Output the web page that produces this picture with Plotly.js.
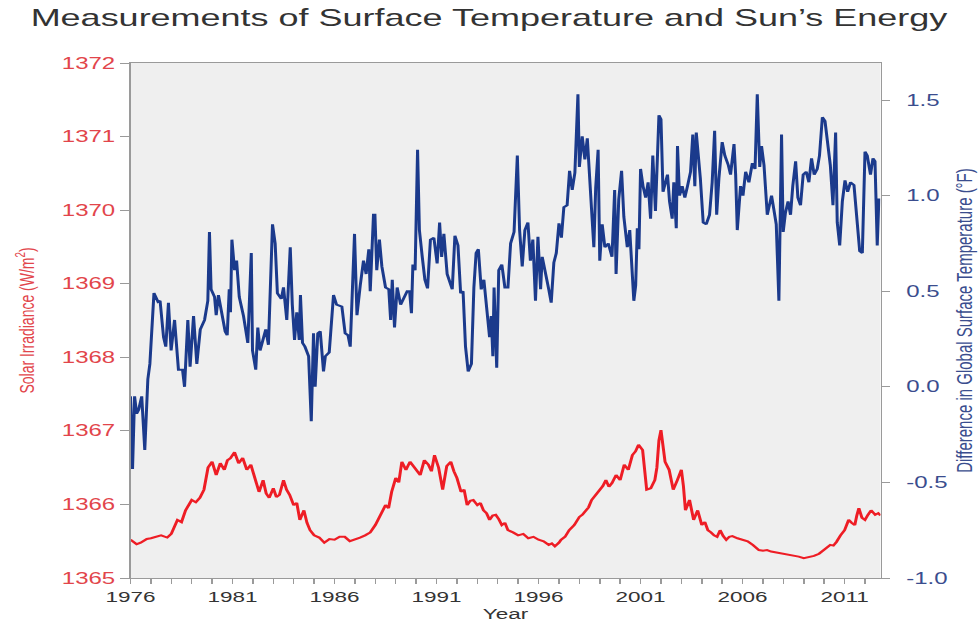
<!DOCTYPE html>
<html>
<head>
<meta charset="utf-8">
<script src="https://cdn.plot.ly/plotly-3.0.1.min.js"></script>
<style>
html,body{margin:0;padding:0;background:#fff;}
#wrap{width:978px;height:623px;overflow:hidden;}
#chart{width:652px;height:623px;transform:scaleX(1.5);transform-origin:0 0;}
</style>
</head>
<body>
<div id="wrap"><div id="chart"></div></div>
<script>
// Global surface temperature difference (°F), right axis
const tempYears = [1976.00,1976.10,1976.20,1976.30,1976.40,1976.55,1976.70,1976.85,1976.95,1977.15,1977.35,1977.45,1977.62,1977.73,1977.86,1977.99,1978.16,1978.35,1978.55,1978.65,1978.81,1978.92,1979.09,1979.25,1979.42,1979.63,1979.79,1979.87,1979.95,1980.12,1980.20,1980.31,1980.64,1980.74,1980.84,1980.90,1980.97,1981.10,1981.20,1981.33,1981.54,1981.75,1981.92,1981.98,1982.14,1982.24,1982.35,1982.52,1982.63,1982.76,1982.96,1983.09,1983.20,1983.39,1983.50,1983.66,1983.83,1983.93,1984.04,1984.15,1984.27,1984.33,1984.43,1984.55,1984.73,1984.86,1984.97,1985.05,1985.18,1985.30,1985.46,1985.55,1985.74,1985.95,1986.10,1986.36,1986.52,1986.66,1986.77,1986.98,1987.10,1987.26,1987.42,1987.55,1987.68,1987.75,1987.91,1987.98,1988.07,1988.20,1988.32,1988.50,1988.66,1988.75,1988.83,1988.94,1989.07,1989.24,1989.40,1989.56,1989.68,1989.77,1989.84,1989.95,1990.07,1990.16,1990.30,1990.43,1990.56,1990.70,1990.87,1991.03,1991.15,1991.25,1991.36,1991.52,1991.77,1991.90,1992.05,1992.18,1992.30,1992.42,1992.55,1992.71,1992.83,1992.94,1993.05,1993.19,1993.32,1993.48,1993.60,1993.68,1993.76,1993.82,1993.95,1994.05,1994.20,1994.35,1994.50,1994.63,1994.80,1994.96,1995.07,1995.20,1995.33,1995.48,1995.60,1995.72,1995.85,1995.97,1996.10,1996.18,1996.34,1996.50,1996.62,1996.75,1996.87,1997.00,1997.12,1997.24,1997.40,1997.52,1997.65,1997.78,1997.93,1998.00,1998.14,1998.27,1998.39,1998.51,1998.63,1998.71,1998.80,1998.92,1999.00,1999.12,1999.25,1999.42,1999.60,1999.73,1999.80,1999.93,2000.07,2000.18,2000.35,2000.47,2000.67,2000.76,2000.84,2000.92,2001.00,2001.12,2001.25,2001.37,2001.49,2001.60,2001.73,2001.90,2002.00,2002.10,2002.23,2002.32,2002.42,2002.55,2002.63,2002.75,2002.81,2002.91,2003.04,2003.17,2003.30,2003.45,2003.56,2003.66,2003.73,2003.82,2003.93,2004.07,2004.22,2004.38,2004.51,2004.63,2004.73,2004.84,2005.00,2005.13,2005.30,2005.41,2005.58,2005.66,2005.74,2005.90,2006.02,2006.15,2006.31,2006.48,2006.61,2006.72,2006.84,2006.93,2007.05,2007.21,2007.42,2007.53,2007.65,2007.78,2007.91,2007.99,2008.10,2008.23,2008.35,2008.46,2008.60,2008.71,2008.84,2008.97,2009.12,2009.25,2009.38,2009.51,2009.66,2009.77,2009.91,2010.04,2010.17,2010.30,2010.43,2010.56,2010.64,2010.76,2010.89,2011.02,2011.15,2011.29,2011.46,2011.62,2011.74,2011.87,2012.00,2012.11,2012.27,2012.39,2012.49,2012.60,2012.68];
const tempValues = [-0.05,-0.43,-0.05,-0.14,-0.12,-0.05,-0.33,0.04,0.12,0.49,0.445,0.45,0.26,0.21,0.44,0.19,0.35,0.09,0.09,0.0,0.35,0.105,0.37,0.12,0.30,0.35,0.45,0.81,0.51,0.47,0.375,0.48,0.29,0.27,0.51,0.39,0.77,0.61,0.66,0.47,0.37,0.23,0.70,0.19,0.09,0.31,0.19,0.26,0.30,0.22,0.85,0.75,0.49,0.46,0.52,0.35,0.73,0.43,0.245,0.39,0.245,0.48,0.23,0.21,0.16,-0.18,0.28,0.0,0.28,0.29,0.08,0.16,0.18,0.48,0.43,0.42,0.28,0.27,0.21,0.80,0.375,0.53,0.66,0.59,0.72,0.50,0.90,0.90,0.61,0.77,0.63,0.52,0.51,0.35,0.56,0.31,0.52,0.43,0.47,0.50,0.50,0.385,0.64,0.61,1.24,0.82,0.68,0.56,0.515,0.77,0.78,0.645,0.86,0.68,0.80,0.59,0.51,0.79,0.74,0.49,0.50,0.21,0.08,0.12,0.52,0.70,0.72,0.51,0.56,0.37,0.26,0.37,0.16,0.52,0.10,0.61,0.64,0.52,0.52,0.75,0.81,1.21,0.82,0.63,0.82,0.86,0.66,0.77,0.45,0.785,0.51,0.68,0.58,0.51,0.44,0.65,0.70,0.855,0.78,0.94,0.95,1.13,1.03,1.12,1.53,1.15,1.31,1.19,1.30,1.12,0.87,0.73,1.04,1.24,0.66,0.85,0.73,0.75,0.68,1.03,0.59,0.98,1.13,0.89,0.73,0.82,0.45,0.53,0.83,0.72,1.14,1.05,0.99,1.07,0.88,1.21,0.92,1.42,1.40,1.02,1.09,1.11,0.97,0.88,1.07,0.83,1.26,1.00,1.05,0.99,1.05,1.125,1.32,1.05,1.33,1.23,1.09,0.86,0.85,0.90,1.07,1.34,0.90,1.09,1.28,1.21,1.16,1.11,1.27,1.11,0.82,1.05,1.00,1.125,1.07,1.17,1.14,1.53,1.15,1.26,1.16,0.90,1.00,0.93,0.85,0.45,1.32,0.81,0.91,0.97,0.90,1.05,1.18,0.99,0.95,1.11,1.125,1.07,1.195,1.11,1.14,1.21,1.41,1.39,1.265,1.16,0.95,1.33,0.86,0.74,0.97,1.08,1.02,1.07,1.055,0.83,0.71,0.70,1.23,1.21,1.11,1.195,1.18,0.74,0.985];

// Solar irradiance (W/m²), left axis
const solarYears = [1976.0,1976.3,1976.5,1976.8,1977.0,1977.3,1977.5,1977.8,1978.0,1978.3,1978.5,1978.7,1979.0,1979.2,1979.4,1979.6,1979.8,1980.0,1980.2,1980.4,1980.6,1980.75,1980.9,1981.1,1981.3,1981.5,1981.7,1981.9,1982.1,1982.3,1982.5,1982.65,1982.8,1983.0,1983.15,1983.3,1983.5,1983.65,1983.8,1984.0,1984.15,1984.3,1984.5,1984.65,1984.8,1985.0,1985.25,1985.5,1985.75,1986.0,1986.25,1986.5,1986.75,1987.0,1987.25,1987.5,1987.75,1988.0,1988.3,1988.5,1988.65,1988.8,1989.0,1989.15,1989.3,1989.5,1989.7,1989.85,1990.0,1990.2,1990.4,1990.6,1990.75,1990.9,1991.1,1991.3,1991.5,1991.7,1991.85,1992.0,1992.2,1992.35,1992.5,1992.65,1992.8,1993.0,1993.15,1993.3,1993.45,1993.6,1993.75,1993.9,1994.05,1994.2,1994.35,1994.5,1994.75,1995.0,1995.25,1995.5,1995.75,1996.0,1996.25,1996.5,1996.65,1996.8,1997.0,1997.1,1997.3,1997.5,1997.75,1998.0,1998.15,1998.3,1998.45,1998.6,1998.8,1999.0,1999.15,1999.3,1999.45,1999.6,1999.8,2000.0,2000.2,2000.4,2000.6,2000.75,2000.9,2001.1,2001.2,2001.3,2001.5,2001.7,2001.8,2001.9,2002.0,2002.1,2002.2,2002.4,2002.5,2002.6,2002.8,2003.0,2003.1,2003.2,2003.4,2003.6,2003.8,2004.0,2004.15,2004.3,2004.45,2004.6,2004.75,2004.9,2005.05,2005.2,2005.35,2005.5,2005.75,2006.0,2006.25,2006.5,2006.65,2006.8,2007.0,2007.2,2007.4,2007.6,2007.8,2008.0,2008.25,2008.5,2008.75,2009.0,2009.25,2009.5,2009.75,2010.0,2010.15,2010.3,2010.45,2010.6,2010.8,2011.0,2011.1,2011.2,2011.35,2011.5,2011.6,2011.7,2011.85,2012.0,2012.15,2012.3,2012.5,2012.65,2012.76];
const solarValues = [1365.52,1365.46,1365.48,1365.53,1365.54,1365.57,1365.58,1365.55,1365.60,1365.79,1365.76,1365.92,1366.06,1366.03,1366.09,1366.20,1366.50,1366.58,1366.40,1366.56,1366.47,1366.60,1366.63,1366.71,1366.56,1366.63,1366.47,1366.54,1366.36,1366.17,1366.33,1366.15,1366.09,1366.22,1366.10,1366.13,1366.33,1366.20,1366.13,1365.99,1366.02,1365.79,1365.92,1365.75,1365.65,1365.58,1365.55,1365.48,1365.53,1365.52,1365.56,1365.56,1365.50,1365.52,1365.55,1365.58,1365.62,1365.72,1365.90,1365.99,1365.95,1366.17,1366.36,1366.30,1366.58,1366.47,1366.58,1366.52,1366.47,1366.40,1366.60,1366.54,1366.45,1366.67,1366.50,1366.20,1366.52,1366.58,1366.45,1366.36,1366.17,1366.20,1365.99,1366.05,1366.06,1365.99,1366.02,1365.92,1365.88,1365.79,1365.85,1365.86,1365.80,1365.72,1365.75,1365.65,1365.62,1365.58,1365.60,1365.54,1365.56,1365.52,1365.50,1365.45,1365.47,1365.43,1365.48,1365.52,1365.56,1365.65,1365.72,1365.83,1365.86,1365.92,1365.96,1366.06,1366.13,1366.20,1366.25,1366.33,1366.24,1366.29,1366.40,1366.33,1366.54,1366.47,1366.67,1366.72,1366.81,1366.74,1366.45,1366.20,1366.22,1366.33,1366.50,1366.87,1367.01,1366.80,1366.58,1366.47,1366.30,1366.20,1366.33,1366.47,1366.25,1365.92,1366.06,1365.79,1365.92,1365.72,1365.76,1365.65,1365.62,1365.58,1365.56,1365.65,1365.57,1365.52,1365.56,1365.57,1365.54,1365.52,1365.50,1365.45,1365.42,1365.38,1365.37,1365.38,1365.36,1365.35,1365.34,1365.33,1365.32,1365.31,1365.29,1365.27,1365.28,1365.30,1365.33,1365.38,1365.42,1365.45,1365.44,1365.49,1365.58,1365.65,1365.72,1365.79,1365.75,1365.72,1365.85,1365.95,1365.82,1365.79,1365.86,1365.92,1365.86,1365.88,1365.85];

// Axis ticks and labels
const xTickVals = [1976,1981,1986,1991,1996,2001,2006,2011];
const leftTickVals = [1365,1366,1367,1368,1369,1370,1371,1372];
const rightTickVals = [-1.0,-0.5,0.0,0.5,1.0,1.5];
const rightTickText = ["-1.0","-0.5","0.0","0.5","1.0","1.5"];

const FONT = "Liberation Sans, Arial, Helvetica, sans-serif";
const RED = "#ee1d25";
const RED_TXT = "#e2454b";
const BLUE = "#1b3a8c";
const BLUE_TXT = "#3a4d8e";

const traces = [
  {x: tempYears, y: tempValues, yaxis: "y2", type: "scatter", mode: "lines",
   line: {color: BLUE, width: 2}, name: "Temperature"},
  {x: solarYears, y: solarValues, yaxis: "y", type: "scatter", mode: "lines",
   line: {color: RED, width: 2, shape: "linear"}, name: "Solar"}
];

const layout = {
  width: 652, height: 623,
  margin: {l: 87, r: 65, t: 63, b: 45},
  paper_bgcolor: "#ffffff",
  plot_bgcolor: "#efefef",
  showlegend: false,
  font: {family: FONT},
  title: {text: "Measurements of Surface Temperature and Sun’s Energy",
          x: 0.5, xanchor: "center", y: 0.972, yanchor: "middle", yref: "container",
          font: {family: FONT, size: 24, color: "#333333"}},
  xaxis: {range: [1976, 2012.76], tickvals: xTickVals, ticks: "outside", ticklen: 5,
          tickcolor: "#9a9a9a", showgrid: false, zeroline: false,
          showline: true, linecolor: "#9a9a9a", linewidth: 1, mirror: true,
          minor: {dtick: 1, tick0: 1976, ticks: "outside", ticklen: 5, tickcolor: "#9a9a9a", showgrid: false},
          tickfont: {family: FONT, size: 15, color: "#333333"},
          title: {text: "Year", font: {family: FONT, size: 15, color: "#333333"}, standoff: 3}},
  yaxis: {range: [1365, 1372], tickvals: leftTickVals, ticks: "outside", ticklen: 6,
          tickcolor: "#9a9a9a", showgrid: false, zeroline: false,
          showline: true, linecolor: "#9a9a9a", linewidth: 1, mirror: true,
          tickfont: {family: FONT, size: 16, color: RED_TXT},
          title: {text: "Solar Irradiance (W/m<sup>2</sup>)", font: {family: FONT, size: 14, color: RED_TXT}, standoff: 14}},
  yaxis2: {range: [-1.0, 1.694], overlaying: "y", side: "right",
           tickvals: rightTickVals, ticktext: rightTickText, ticks: "outside", ticklen: 5,
           ticklabelstandoff: 8,
           tickcolor: "#9a9a9a", showgrid: false, zeroline: false, showline: false,
           tickfont: {family: FONT, size: 16, color: BLUE_TXT},
           title: {text: "Difference in Global Surface Temperature (°F)", font: {family: FONT, size: 15, color: BLUE_TXT}, standoff: 6}}
};

Plotly.newPlot("chart", traces, layout, {staticPlot: true, displayModeBar: false});
</script>
</body>
</html>
